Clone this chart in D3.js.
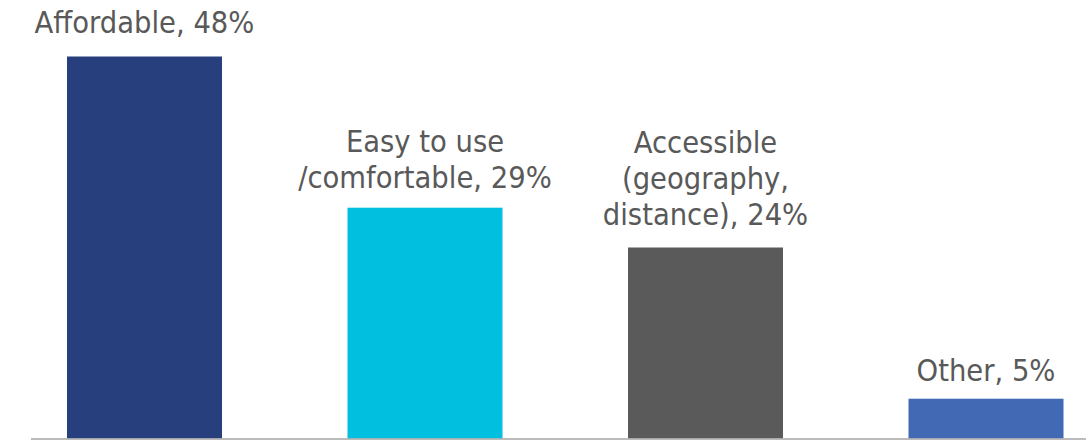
<!DOCTYPE html>
<html><head><meta charset="utf-8">
<script src="https://cdn.jsdelivr.net/npm/d3@7"></script>
<style>body{margin:0;background:#fff}svg{display:block}</style>
</head><body>
<svg id="c" width="1086" height="440"></svg>
<script>
const categories = ["Affordable", "Easy to use /comfortable", "Accessible (geography, distance)", "Other"];
const labelLines = [["Affordable, 48%"], ["Easy to use", "/comfortable, 29%"], ["Accessible", "(geography,", "distance), 24%"], ["Other, 5%"]];
const values = [48, 29, 24, 5];
const colors = ["#283f7d", "#00bfdf", "#5a5a5a", "#4269b3"];
const labelGap = [24, 20, 23, 18];

const svg = d3.select("#c");
const baseY = 438.5;
const x = d3.scaleBand().domain(categories).range([4.25, 1126.25]).paddingInner(0.4474).paddingOuter(0.2237);
const y = d3.scaleLinear().domain([0, 48]).range([baseY, 56.5]);

svg.selectAll("rect.bar").data(values).join("rect")
  .attr("class", "bar")
  .attr("x", (d, i) => x(categories[i]))
  .attr("width", x.bandwidth())
  .attr("y", d => y(d))
  .attr("height", d => baseY - y(d))
  .attr("fill", (d, i) => colors[i]);

svg.append("line").attr("x1", 31).attr("x2", 1086).attr("y1", 439).attr("y2", 439)
  .attr("stroke", "#a6a6a6").attr("stroke-width", 1.5);

const lh = 36;
svg.selectAll("text.lab").data(values).join("text")
  .attr("class", "lab")
  .attr("text-anchor", "middle")
  .attr("font-family", "'DejaVu Sans Condensed', 'DejaVu Sans', sans-serif")
  .attr("font-size", 30.5)
  .attr("fill", "#595959")
  .each(function(d, i) {
    const lines = labelLines[i];
    const cx = x(categories[i]) + x.bandwidth() / 2;
    const lastBase = y(d) - labelGap[i];
    lines.forEach((t, j) => {
      d3.select(this).append("tspan").attr("x", cx)
        .attr("y", lastBase - (lines.length - 1 - j) * lh).text(t);
    });
  });
</script>
</body></html>
